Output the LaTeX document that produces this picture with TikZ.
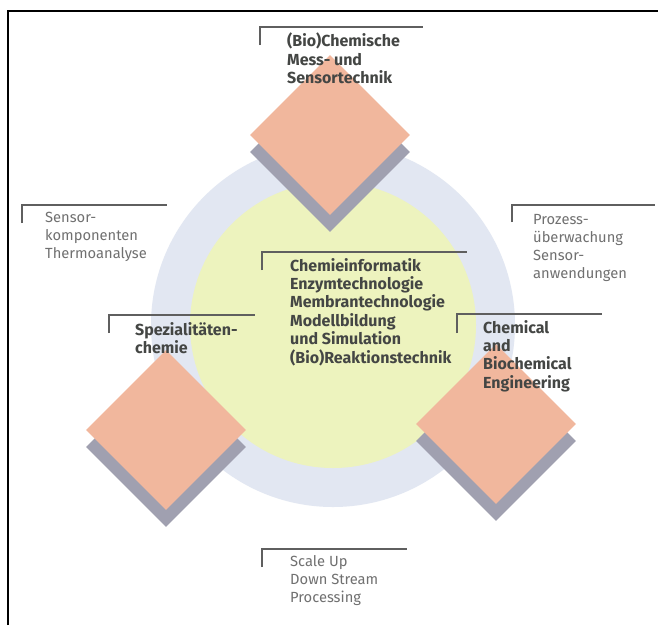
\documentclass[tikz,border=0pt]{standalone}
\usepackage{fontspec}
\setmainfont{Fira Sans}
\usetikzlibrary{shapes.geometric}
\definecolor{salmon}{RGB}{241,183,157}
\definecolor{shade}{RGB}{160,160,176}
\definecolor{ringblue}{RGB}{226,231,242}
\definecolor{coreyellow}{RGB}{237,243,190}
\definecolor{linegrey}{RGB}{95,95,95}
\definecolor{darktext}{RGB}{68,70,68}
\definecolor{lighttext}{RGB}{112,112,112}
\tikzset{
  dia/.style={diamond, shape aspect=1, minimum width=160pt, minimum height=160pt, inner sep=0pt, draw=none},
  face/.style={dia, fill=salmon},
  shadowdia/.style={dia, fill=shade},
  bracket/.style={draw=linegrey, line width=1.3pt},
  lbl/.style={anchor=north west, align=left, inner sep=0pt},
  boldlbl/.style={lbl, text=darktext, font=\fontsize{16}{18.4}\selectfont\bfseries},
  lightlbl/.style={lbl, text=lighttext, font=\fontsize{14.7}{18.2}\selectfont},
}
\begin{document}
\begin{tikzpicture}[x=1pt,y=-1pt]
\useasboundingbox (0,0) rectangle (658,625);
\fill[white] (0,0) rectangle (658,625);
% frame
\draw[black, line width=1.5pt] (8,625) -- (8,11) -- (658,11);
% circles
\node[circle, fill=ringblue, minimum size=364pt, inner sep=0pt] (ring) at (333,325) {};
\node[circle, fill=coreyellow, minimum size=286pt, inner sep=0pt] (core) at (333,325) {};
% diamonds with shadows
\node[shadowdia] (topsh) at (330,152) {};
\node[shadowdia] (leftsh) at (166,447) {};
\node[shadowdia] (rightsh) at (496,441) {};
\node[face] (top) at (330,135) {};
\node[face] (left) at (166,430) {};
\node[face] (right) at (496,424) {};
% brackets
\draw[bracket] (260,45) |- (423,27);
\draw[bracket] (22,223) |- (167,205);
\draw[bracket] (512,222) |- (655,205);
\draw[bracket] (262,270) |- (467,252);
\draw[bracket] (109,333) |- (255,315);
\draw[bracket] (457,333) |- (602,314);
\draw[bracket] (262,567) |- (407,549);
% labels
\node[boldlbl] (ttop) at (287,33) {(Bio)Chemische\\Mess- und\\Sensortechnik};
\node[lightlbl] (tsens) at (45,212) {Sensor-\\komponenten\\Thermoanalyse};
\node[lightlbl] (tproz) at (533,214) {Prozess-\\überwachung\\Sensor-\\anwendungen};
\node[boldlbl] (tcore) at (290,258) {Chemieinformatik\\Enzymtechnologie\\Membrantechnologie\\Modellbildung\\und Simulation\\(Bio)Reaktionstechnik};
\node[boldlbl] (tspez) at (135,322) {Spezialitäten-\\chemie};
\node[boldlbl] (tchem) at (483,320) {Chemical\\and\\Biochemical\\Engineering};
\node[lightlbl] (tscale) at (290,555) {Scale Up\\Down Stream\\Processing};
\end{tikzpicture}
\end{document}
